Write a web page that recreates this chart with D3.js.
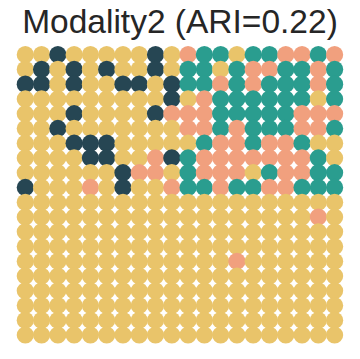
<!DOCTYPE html>
<html>
<head>
<meta charset="utf-8">
<script src="https://cdn.jsdelivr.net/npm/d3@7"></script>
<style>
  body { margin: 0; background: #fff; }
  svg { display: block; }
</style>
</head>
<body>
<svg id="chart" width="360" height="359"></svg>
<script>
// --- data: one string per grid row, one letter per spot ---
const title = "Modality2 (ARI=0.22)";
const domains = ["Y", "D", "G", "S"];
const domainColors = ["#E9C46A", "#264653", "#2A9D8F", "#F1A07E"];
const gridRows = [
  "YYDYYYYYDYSGGYGGSSGS",
  "YDYDYDYYDYGGYGSSGGSG",
  "DDYDYYDDYDGGSGSGGGSG",
  "YYYYYYYYYDYSGGGGGGYG",
  "YYYDYYYYDSSSGGGGGSSS",
  "YYDYYYYYYYSSGSGGGSSG",
  "YYYDDDYYYYYGSSGSSGYY",
  "YYYYDDYYSDGSSSSSSSGY",
  "YYYYYYDSSYGSSSYGSSGG",
  "DYYYSYDYYSGGSGGSSGGG",
  "YYYYYYYYYYYYYYYYYYYY",
  "YYYYYYYYYYYYYYYYYYSY",
  "YYYYYYYYYYYYYYYYYYYY",
  "YYYYYYYYYYYYYYYYYYYY",
  "YYYYYYYYYYYYYSYYYYYY",
  "YYYYYYYYYYYYYYYYYYYY",
  "YYYYYYYYYYYYYYYYYYYY",
  "YYYYYYYYYYYYYYYYYYYY",
  "YYYYYYYYYYYYYYYYYYYY",
  "YYYYYYYYYYYYYYYYYYYY"
];

const nCols = gridRows[0].length;
const nRows = gridRows.length;

const spots = [];
gridRows.forEach((row, r) => {
  row.split("").forEach((label, c) => spots.push({ row: r, col: c, label }));
});

const svg = d3.select("#chart");

const x = d3.scaleLinear().domain([0, nCols - 1]).range([25.3, 334.6]);
const y = d3.scaleLinear().domain([0, nRows - 1]).range([54.7, 335]);
const color = d3.scaleOrdinal().domain(domains).range(domainColors);

svg.append("g")
  .selectAll("circle")
  .data(spots)
  .join("circle")
  .attr("cx", (d) => x(d.col))
  .attr("cy", (d) => y(d.row))
  .attr("r", 8.6)
  .attr("fill", (d) => color(d.label));

svg.append("text")
  .attr("x", 180)
  .attr("y", 33)
  .attr("text-anchor", "middle")
  .attr("font-family", "Liberation Sans, Arial, sans-serif")
  .attr("font-size", 33.5)
  .attr("fill", "#262626")
  .text(title);
</script>
</body>
</html>
